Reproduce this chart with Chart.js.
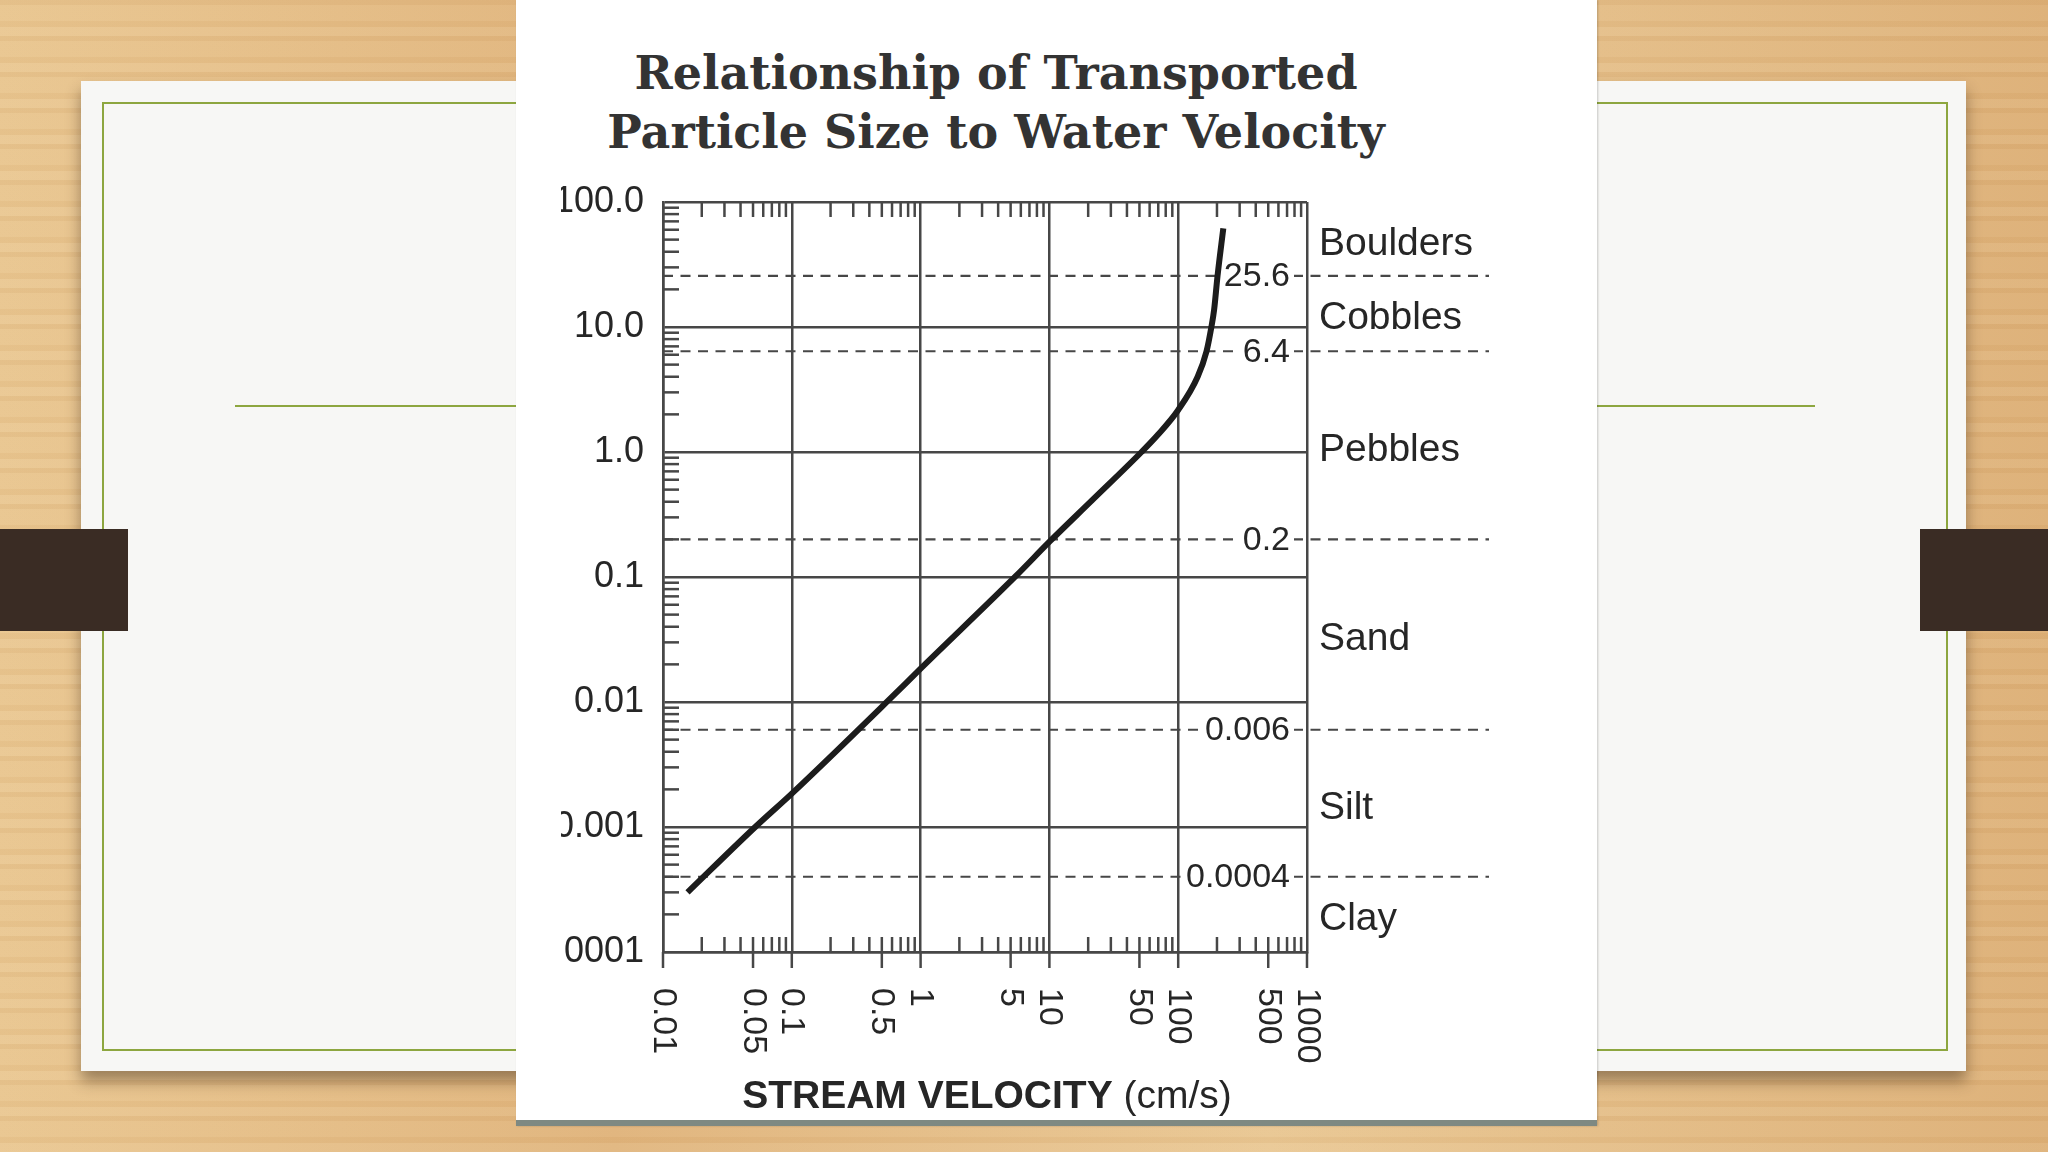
<!DOCTYPE html>
<html lang="en">
    <head>
        <meta charset="UTF-8" />
        <title>Relationship of Transported Particle Size to Water Velocity</title>
        <style>
            body {
                margin: 0;
                width: 2048px;
                height: 1152px;
                overflow: hidden;
                position: relative;
                background:
                    repeating-linear-gradient(0deg, rgba(255, 245, 225, 0.08) 0 9px, rgba(170, 110, 50, 0.05) 9px 15px, rgba(255, 250, 235, 0.03) 15px 31px, rgba(160, 100, 45, 0.06) 31px 36px),
                    linear-gradient(90deg, #e9c690, #e0b47c 30%, #e9c793 62%, #ddb077);
            }
            .slide {
                position: absolute;
                left: 81px;
                top: 81px;
                width: 1885px;
                height: 990px;
                background: #f7f7f5;
                box-shadow: 0 10px 14px rgba(60, 40, 20, 0.45);
            }
            .frame {
                position: absolute;
                left: 102px;
                top: 102px;
                width: 1842px;
                height: 945px;
                border: 2px solid #8da63f;
            }
            .rule {
                position: absolute;
                top: 405px;
                height: 2px;
                background: #8da63f;
            }
            .tab {
                position: absolute;
                top: 529px;
                width: 128px;
                height: 102px;
                background: #3a2c24;
            }
            .panel {
                position: absolute;
                left: 516px;
                top: 0;
                width: 1081px;
                height: 1120px;
                background: #fff;
                border-bottom: 6px solid #7e8982;
                box-shadow: 1px 0 2px rgba(0, 0, 0, 0.2);
            }
            h1 {
                position: absolute;
                left: 516px;
                top: 44px;
                width: 960px;
                margin: 0;
                text-align: center;
                font: bold 46px/59px "DejaVu Serif", serif;
                color: #333;
            }
            canvas {
                position: absolute;
                left: 561px;
                top: 0;
            }
        </style>
        <script src="https://cdn.jsdelivr.net/npm/chart.js"></script>
    </head>
    <body>
        <div class="slide"></div>
        <div class="frame"></div>
        <div class="rule" style="left: 235px; width: 281px"></div>
        <div class="rule" style="left: 1597px; width: 218px"></div>
        <div class="tab" style="left: 0"></div>
        <div class="tab" style="left: 1920px"></div>
        <div class="panel"></div>
        <h1>Relationship of Transported<br />Particle Size to Water Velocity</h1>
        <canvas id="chart" width="1487" height="1152"></canvas>
        <script>
            // curve: stream velocity (cm/s) vs particle size (cm)
            const velocity = [0.0155, 0.052, 0.1, 0.557, 1, 5.5, 10.2, 21.4, 51.9, 69.8, 100, 141.6, 166, 181, 190, 202, 224];
            const particleSize = [0.0003, 0.001, 0.00185, 0.0102, 0.0185, 0.102, 0.195, 0.41, 1.0, 1.38, 2.17, 4.0, 6.4, 10, 13.7, 25.6, 61.6];

            const yTickValues = [0.0001, 0.001, 0.01, 0.1, 1, 10, 100];
            const yTickLabels = ["0.0001", "0.001", "0.01", "0.1", "1.0", "10.0", "100.0"];
            const xGridValues = [0.01, 0.1, 1, 10, 100, 1000];
            const xTickValues = [0.01, 0.05, 0.1, 0.5, 1, 5, 10, 50, 100, 500, 1000];
            const xTickLabels = ["0.01", "0.05", "0.1", "0.5", "1", "5", "10", "50", "100", "500", "1000"];

            const classNames = ["Boulders", "Cobbles", "Pebbles", "Sand", "Silt", "Clay"];
            const classBounds = [100, 25.6, 6.4, 0.2, 0.006, 0.0004, 0.0001];
            const boundLabels = ["25.6", "6.4", "0.2", "0.006", "0.0004"];

            const INK = "#474747";
            const TEXT = "#262626";
            const SANS = '"Liberation Sans", Arial, sans-serif';

            function stroke(ctx, x1, y1, x2, y2) {
                ctx.beginPath();
                ctx.moveTo(x1, y1);
                ctx.lineTo(x2, y2);
                ctx.stroke();
            }

            // minor ticks, class boundaries, labels and x axis text
            const overlay = {
                id: "overlay",
                beforeDatasetsDraw(chart) {
                    const { ctx, chartArea: a, scales } = chart;
                    const x = scales.x;
                    const y = scales.y;
                    ctx.save();
                    ctx.strokeStyle = INK;
                    ctx.lineWidth = 2.5;

                    for (let d = -4; d < 2; d++) {
                        for (let m = 2; m <= 9; m++) {
                            const py = y.getPixelForValue(m * Math.pow(10, d));
                            stroke(ctx, a.left, py, a.left + 16, py);
                        }
                    }
                    for (let d = -2; d < 3; d++) {
                        for (let m = 2; m <= 9; m++) {
                            const px = x.getPixelForValue(m * Math.pow(10, d));
                            stroke(ctx, px, a.top, px, a.top + 15);
                            stroke(ctx, px, a.bottom, px, a.bottom - 15);
                        }
                    }
                    xTickValues.forEach((v) => {
                        const px = x.getPixelForValue(v);
                        stroke(ctx, px, a.bottom, px, a.bottom + 16);
                    });

                    // dashed class boundaries
                    ctx.font = "34px " + SANS;
                    ctx.textBaseline = "middle";
                    boundLabels.forEach((label, i) => {
                        const py = y.getPixelForValue(classBounds[i + 1]);
                        ctx.setLineDash([10, 7.5]);
                        ctx.lineWidth = 2.2;
                        stroke(ctx, a.left, py, a.right + 182, py);
                        ctx.setLineDash([]);
                        const w = ctx.measureText(label).width;
                        const tx = a.right - 17;
                        ctx.fillStyle = "#fff";
                        ctx.fillRect(tx - w - 4, py - 16, w + 8, 32);
                        ctx.fillStyle = TEXT;
                        ctx.textAlign = "right";
                        ctx.fillText(label, tx, py + 1);
                    });

                    // class names between boundaries
                    ctx.font = "39px " + SANS;
                    ctx.textAlign = "left";
                    classNames.forEach((name, i) => {
                        const mid = Math.sqrt(classBounds[i] * classBounds[i + 1]);
                        ctx.fillText(name, a.right + 12, y.getPixelForValue(mid) + 5);
                    });

                    // rotated x tick labels
                    ctx.font = "34px " + SANS;
                    xTickValues.forEach((v, i) => {
                        ctx.save();
                        ctx.translate(x.getPixelForValue(v), a.bottom + 36);
                        ctx.rotate(Math.PI / 2);
                        ctx.fillText(xTickLabels[i], 0, 0);
                        ctx.restore();
                    });

                    // x axis title
                    const bold = "STREAM VELOCITY";
                    const rest = " (cm/s)";
                    ctx.font = "bold 39px " + SANS;
                    const wb = ctx.measureText(bold).width;
                    ctx.font = "39px " + SANS;
                    const wr = ctx.measureText(rest).width;
                    const cx = (a.left + a.right) / 2 - (wb + wr) / 2 + 2;
                    ctx.font = "bold 39px " + SANS;
                    ctx.fillText(bold, cx, 1097);
                    ctx.font = "39px " + SANS;
                    ctx.fillText(rest, cx + wb, 1097);
                    ctx.restore();
                },
            };

            const ctx = document.getElementById("chart").getContext("2d");
            new Chart(ctx, {
                type: "scatter",
                data: {
                    datasets: [
                        {
                            data: velocity.map((v, i) => ({ x: v, y: particleSize[i] })),
                            showLine: true,
                            pointRadius: 0,
                            borderColor: "#1c1c1c",
                            borderWidth: 6,
                            cubicInterpolationMode: "monotone",
                        },
                    ],
                },
                options: {
                    responsive: false,
                    devicePixelRatio: 1,
                    animation: false,
                    layout: { padding: { left: 0, top: 202, right: 741, bottom: 0 } },
                    plugins: { legend: { display: false }, tooltip: { enabled: false } },
                    scales: {
                        x: {
                            type: "logarithmic",
                            min: 0.01,
                            max: 1000,
                            afterBuildTicks: (s) => {
                                s.ticks = xGridValues.map((value) => ({ value }));
                            },
                            afterFit: (s) => {
                                s.height = 200;
                            },
                            ticks: { display: false },
                            grid: { color: INK, lineWidth: 2.5, drawTicks: false },
                            border: { color: INK, width: 2.5 },
                        },
                        y: {
                            type: "logarithmic",
                            min: 0.0001,
                            max: 100,
                            afterBuildTicks: (s) => {
                                s.ticks = yTickValues.map((value) => ({ value }));
                            },
                            afterFit: (s) => {
                                s.width = 102;
                            },
                            ticks: {
                                padding: 19,
                                color: TEXT,
                                font: { family: SANS, size: 36 },
                                callback: (value, i) => yTickLabels[i],
                            },
                            grid: { color: INK, lineWidth: 2.5, drawTicks: false },
                            border: { color: INK, width: 2.5 },
                        },
                    },
                },
                plugins: [overlay],
            });
        </script>
    </body>
</html>
